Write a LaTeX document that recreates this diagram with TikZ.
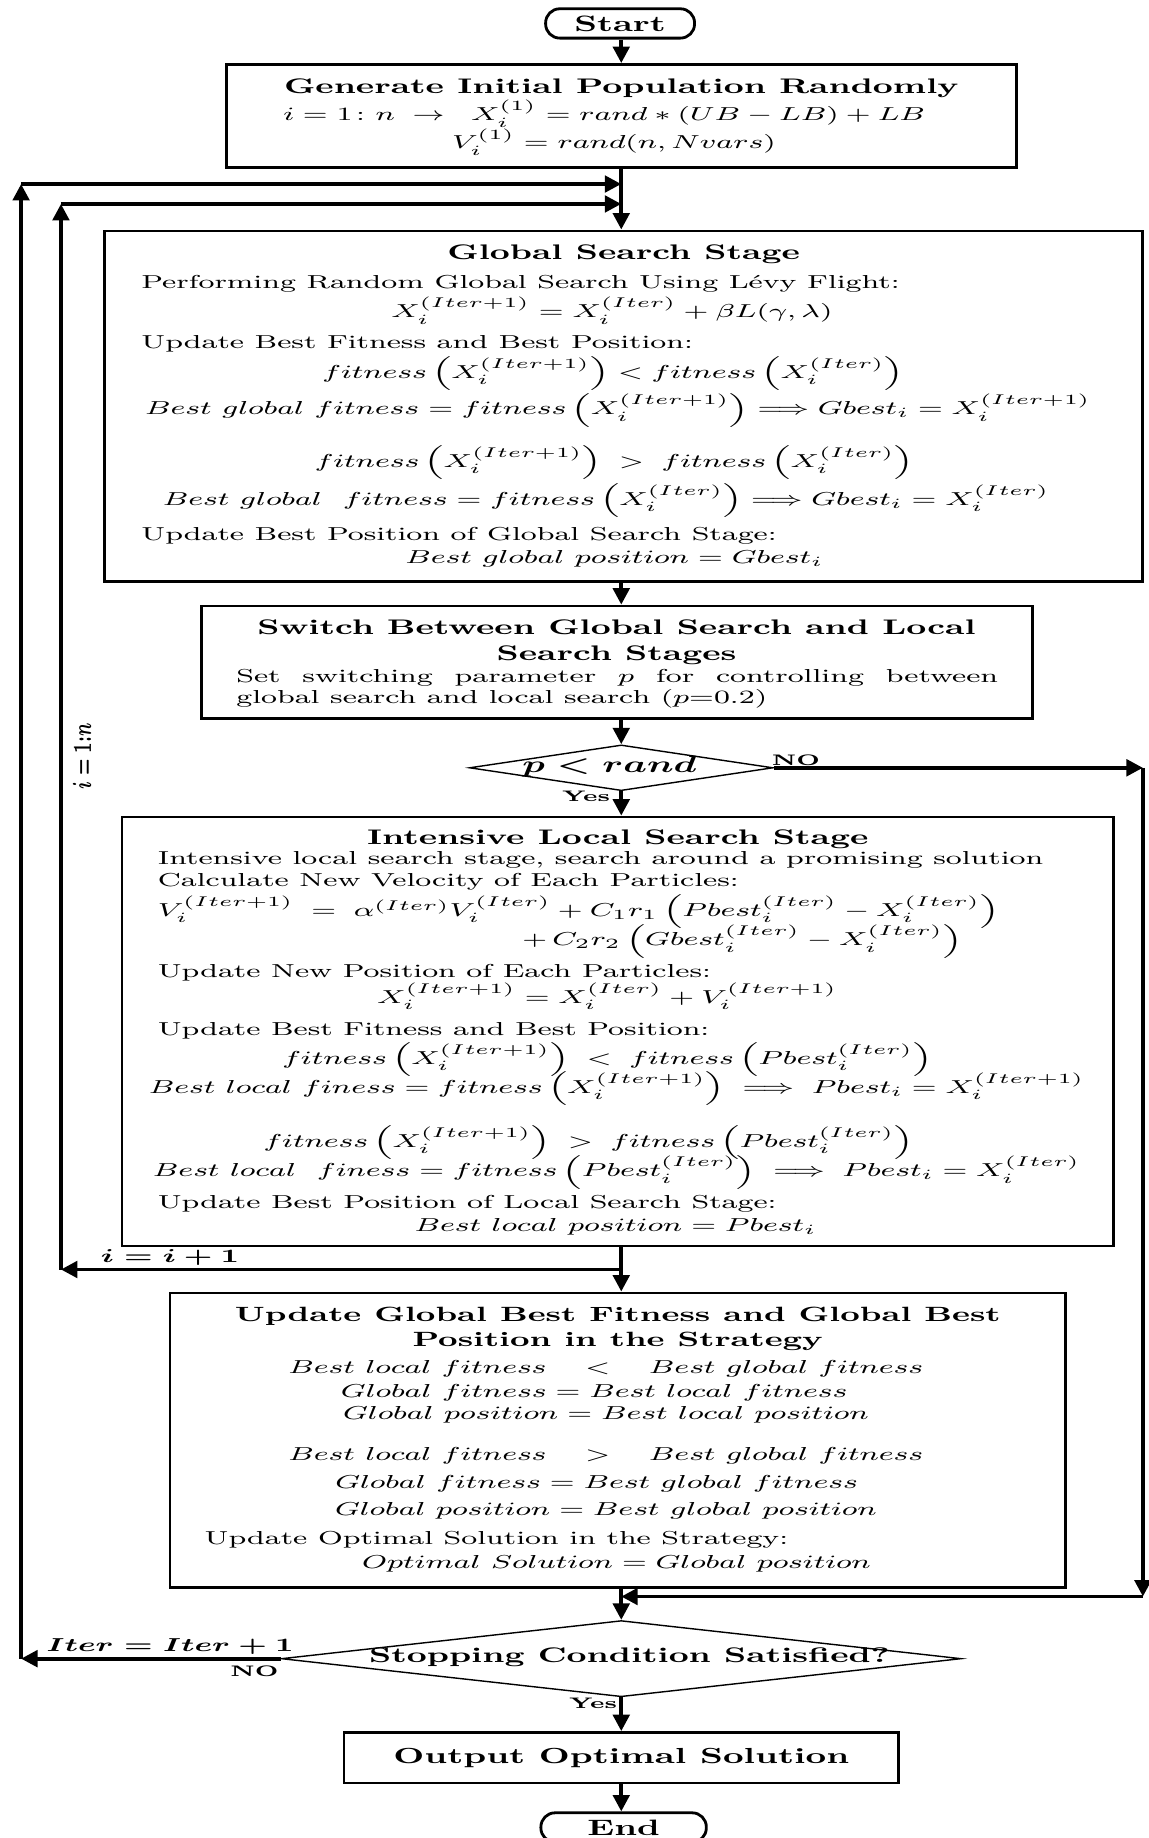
\documentclass[tikz,border=0pt]{standalone}
\usepackage{amsmath}
\usetikzlibrary{arrows.meta,positioning,shapes.geometric,fit}
\tikzset{
  sx/.style={xscale=1.6,transform shape},
  box/.style={draw,line width=1.2pt,inner sep=0pt},
  term/.style={draw,sx,line width=1.2pt,rounded corners=6pt,minimum height=12.5pt,
               inner sep=0pt,font=\fontsize{9.5}{11}\selectfont\bfseries},
  cond/.style={diamond,draw,line width=0.6pt,inner sep=0pt},
  txt/.style={sx,inner sep=0pt,font=\fontsize{8}{10}\selectfont},
  head/.style={txt,font=\fontsize{9}{11}\selectfont\bfseries},
  tag/.style={txt,font=\fontsize{6.5}{8}\selectfont\bfseries},
  flow/.style={-{Triangle[length=7pt,width=7pt]},line width=1.6pt}
}

\begin{document}
\begin{tikzpicture}[x=0.5pt,y=-0.5pt]
  \useasboundingbox (0,0) rectangle (980,1568);
  \coordinate (ax) at (530,0);
  % start and initial population
  \node[term,minimum width=39.7pt] (start) at (529,20) {Start};
  \node[box,fit={(193,55) (867,143)}] (gen) {};
  \node[head] (gen-h) at (530,75) {Generate Initial Population Randomly};
  \node[txt,anchor=west] (gen-1) at (241,97) {$i = 1\colon n \;\rightarrow\;\; X_i^{(1)} = rand * (UB - LB) + LB$};
  \node[txt,anchor=west] (gen-2) at (385,121) {$V_i^{(1)} = rand(n, Nvars)$};
  % global search stage
  \node[box,fit={(89,197) (975,496)}] (glob) {};
  \node[head] (glob-h) at (532,217) {Global Search Stage};
  \node[txt,anchor=west] (glob-1) at (120,242) {Performing Random Global Search Using Lévy Flight:};
  \node[txt] (glob-2) at (522,265) {$X_i^{(Iter+1)} = X_i^{(Iter)} + \beta L(\gamma,\lambda)$};
  \node[txt,anchor=west] (glob-3) at (120,293) {Update Best Fitness and Best Position:};
  \node[txt] (glob-4) at (523,319) {$fitness\left(X_i^{(Iter+1)}\right) < fitness\left(X_i^{(Iter)}\right)$};
  \node[txt] (glob-5) at (527,350) {$Best\ global\ fitness = fitness\left(X_i^{(Iter+1)}\right) \Longrightarrow Gbest_i = X_i^{(Iter+1)}$};
  \node[txt] (glob-6) at (524,395) {$fitness\left(X_i^{(Iter+1)}\right) \;>\; fitness\left(X_i^{(Iter)}\right)$};
  \node[txt] (glob-7) at (517,427) {$Best\ global\ \ fitness = fitness\left(X_i^{(Iter)}\right) \Longrightarrow Gbest_i = X_i^{(Iter)}$};
  \node[txt,anchor=west] (glob-8) at (120,457) {Update Best Position of Global Search Stage:};
  \node[txt] (glob-9) at (524,477) {$Best\ global\ position = Gbest_i$};
  % switching
  \node[box,fit={(172,517) (881,613)}] (sw) {};
  \node[head,align=center] (sw-h) at (526,548) {Switch Between Global Search and Local\\Search Stages};
  \node[txt,anchor=west] (sw-1) at (201,578) {\makebox[203.1pt][s]{Set switching parameter $p$ for controlling between}};
  \node[txt,anchor=west] (sw-2) at (201,596) {global search and local search ($p$=0.2)};
  \node[cond,minimum width=129.5pt,minimum height=19.5pt] (pc) at (530,655) {};
  \node[txt,font=\fontsize{10}{12}\selectfont\boldmath] (pc-t) at (520,654) {$p < rand$};
  \node[tag] (pc-no) at (679,649) {NO};
  \node[tag] (pc-yes) at (500,679) {Yes};
  % local search stage
  \node[box,fit={(104,697) (950,1063)}] (loc) {};
  \node[head] (loc-h) at (527,716) {Intensive Local Search Stage};
  \node[txt,anchor=west] (loc-1) at (134,734) {Intensive local search stage, search around a promising solution};
  \node[txt,anchor=west] (loc-2) at (134,752) {Calculate New Velocity of Each Particles:};
  \node[txt,anchor=west] (loc-3) at (134,778) {$V_i^{(Iter+1)} \;=\; \alpha^{(Iter)}V_i^{(Iter)} + C_1r_1\left(Pbest_i^{(Iter)} - X_i^{(Iter)}\right)$};
  \node[txt,anchor=west] (loc-4) at (445,803) {$+\,C_2r_2\left(Gbest_i^{(Iter)} - X_i^{(Iter)}\right)$};
  \node[txt,anchor=west] (loc-5) at (134,830) {Update New Position of Each Particles:};
  \node[txt] (loc-6) at (518,850) {$X_i^{(Iter+1)} = X_i^{(Iter)} + V_i^{(Iter+1)}$};
  \node[txt,anchor=west] (loc-7) at (134,879) {Update Best Fitness and Best Position:};
  \node[txt] (loc-8) at (518,904) {$fitness\left(X_i^{(Iter+1)}\right) \;<\; fitness\left(Pbest_i^{(Iter)}\right)$};
  \node[txt] (loc-9) at (526,929) {$Best\ local\ finess = fitness\left(X_i^{(Iter+1)}\right) \;\Longrightarrow\; Pbest_i = X_i^{(Iter+1)}$};
  \node[txt] (loc-10) at (502,975) {$fitness\left(X_i^{(Iter+1)}\right) \;>\; fitness\left(Pbest_i^{(Iter)}\right)$};
  \node[txt] (loc-11) at (526,1000) {$Best\ local\ \ finess = fitness\left(Pbest_i^{(Iter)}\right) \;\Longrightarrow\; Pbest_i = X_i^{(Iter)}$};
  \node[txt,anchor=west] (loc-12) at (134,1027) {Update Best Position of Local Search Stage:};
  \node[txt] (loc-13) at (525,1047) {$Best\ local\ position = Pbest_i$};
  % global best update
  \node[box,fit={(145,1103) (909,1354)}] (upd) {};
  \node[head,align=center,font=\fontsize{8.8}{10.8}\selectfont\bfseries] (upd-h) at (527,1133.5) {Update Global Best Fitness and Global Best\\Position in the Strategy};
  \node[txt] (upd-1) at (517,1168) {$Best\ local\ fitness \quad<\quad Best\ global\ fitness$};
  \node[txt] (upd-2) at (507,1188) {$Global\ fitness = Best\ local\ fitness$};
  \node[txt] (upd-3) at (517,1207) {$Global\ position = Best\ local\ position$};
  \node[txt] (upd-4) at (517,1242) {$Best\ local\ fitness \quad>\quad Best\ global\ fitness$};
  \node[txt] (upd-5) at (509,1266) {$Global\ fitness = Best\ global\ fitness$};
  \node[txt] (upd-6) at (517,1289) {$Global\ position = Best\ global\ position$};
  \node[txt,anchor=west] (upd-7) at (174,1314) {Update Optimal Solution in the Strategy:};
  \node[txt] (upd-8) at (526,1334) {$Optimal\ Solution = Global\ position$};
  % stopping test and output
  \node[cond,minimum width=290pt,minimum height=32.5pt] (sc) at (530,1415) {};
  \node[head] (sc-t) at (537,1414) {Stopping Condition Satisfied?};
  \node[txt,font=\fontsize{8.5}{10}\selectfont\boldmath] (sc-it) at (145,1405) {$Iter = Iter + 1$};
  \node[tag] (sc-no) at (217,1426) {NO};
  \node[tag] (sc-yes) at (506,1453) {Yes};
  \node[box,sx,minimum width=147.8pt,minimum height=21.5pt,font=\fontsize{9.3}{11}\selectfont\bfseries] (out) at (530,1499.5) {Output Optimal Solution};
  \node[term,minimum width=44.1pt] (end) at (532,1559) {End};
  % main flow
  \foreach \a/\b in {start/gen,gen/glob,glob/sw,sw/pc,pc/loc,loc/upd,upd/sc,sc/out,out/end}
    \draw[flow] (\a.south -| ax) -- (\b.north -| ax);
  % NO branch of p < rand
  \coordinate (r1) at (975,655);
  \coordinate (r2) at (975,1362);
  \coordinate (r3) at (530,1362);
  \draw[flow] (pc.east) -- (r1);
  \draw[flow] (r1) -- (r2);
  \draw[flow] (r2) -- (r3);
  % particle loop
  \coordinate (i0) at (530,1083);
  \coordinate (i1) at (52,1083);
  \coordinate (i2) at (52,174);
  \coordinate (i3) at (530,174);
  \draw[flow] (i0) -- (i1);
  \draw[flow] (i1) -- (i2);
  \draw[flow] (i2) -- (i3);
  \node[txt,font=\fontsize{8}{10}\selectfont\boldmath] (i-inc) at (145,1073) {$i = i + 1$};
  \node[txt,rotate=90,font=\fontsize{7}{9}\selectfont\boldmath] (i-rng) at (70,645) {$i = 1{:}n$};
  % iteration loop
  \coordinate (o1) at (18,1415);
  \coordinate (o2) at (18,157);
  \coordinate (o3) at (530,157);
  \draw[flow] (sc.west) -- (o1);
  \draw[flow] (o1) -- (o2);
  \draw[flow] (o2) -- (o3);
\end{tikzpicture}
\end{document}
